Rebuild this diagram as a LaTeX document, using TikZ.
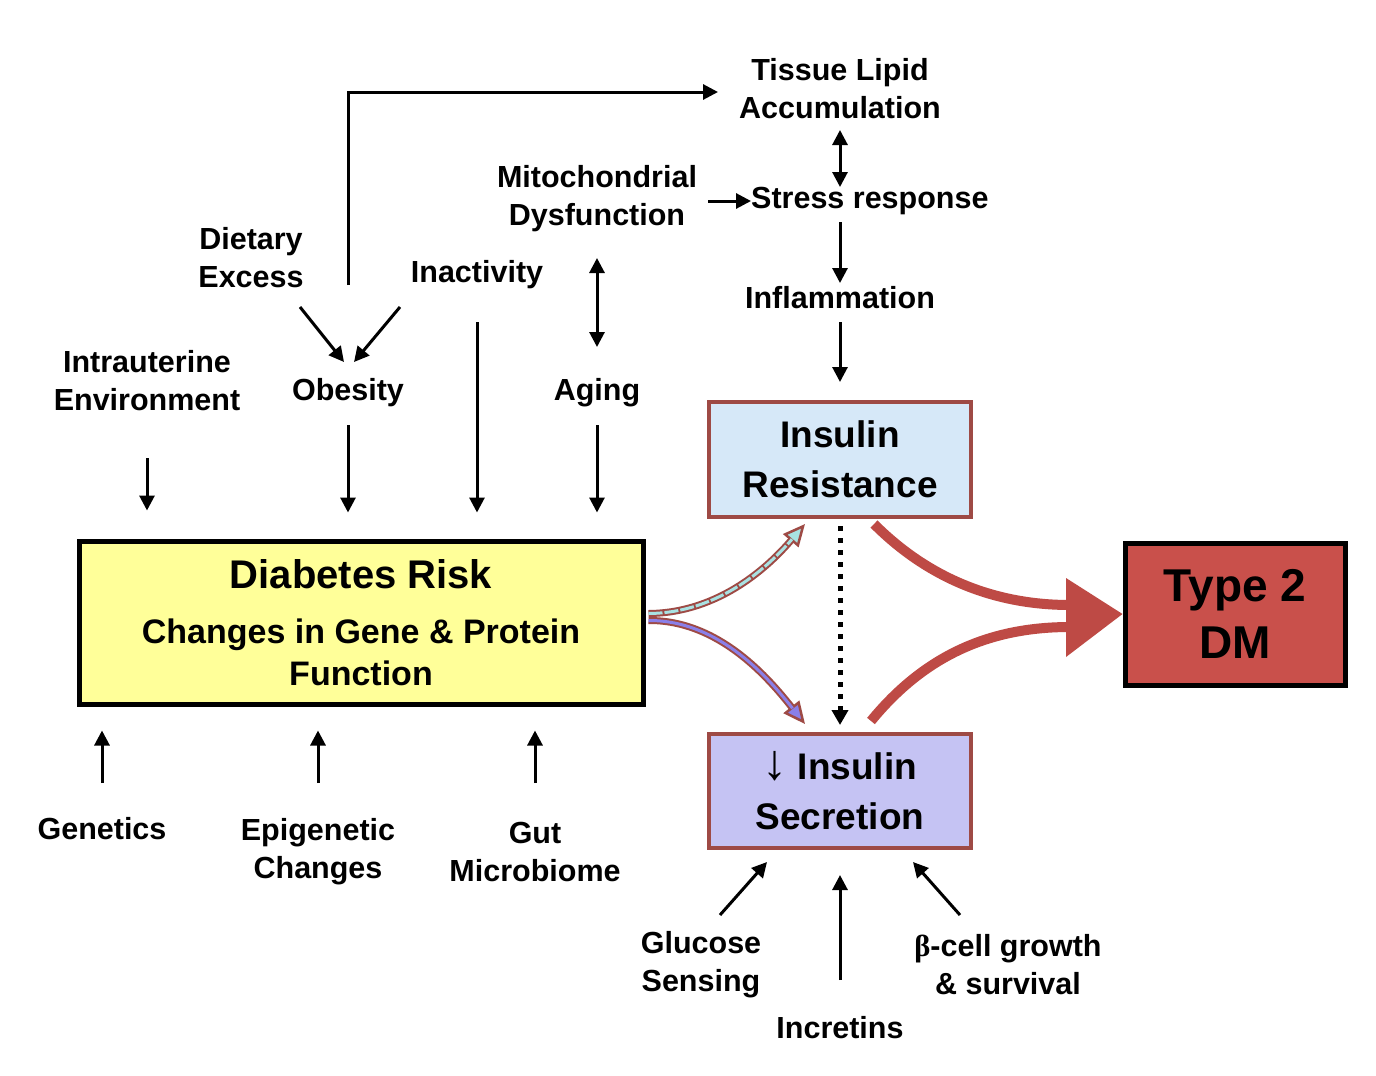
\documentclass[tikz,border=0pt]{standalone}
\usepackage{fontspec}
\setmainfont{Liberation Sans}
\newfontfamily\greekserif{Liberation Serif}
\usetikzlibrary{arrows.meta,calc}
\definecolor{brownline}{HTML}{9E4A45}
\definecolor{redarrow}{HTML}{BE4A45}
\definecolor{tdmfill}{HTML}{C9504B}
\definecolor{irfill}{HTML}{D6E8F8}
\definecolor{isfill}{HTML}{C5C3F3}
\definecolor{riskfill}{HTML}{FFFF99}
\definecolor{cyanline}{HTML}{A8E2E2}
\definecolor{purpline}{HTML}{8A7FE8}
\begin{document}
\begin{tikzpicture}[x=1pt,y=-1pt,
  lbl/.style={font=\fontsize{30.5}{38}\selectfont\bfseries, align=center, inner sep=0pt},
  arr/.style={line width=3pt, -{Triangle[length=15pt,width=15pt]}},
  dbl/.style={line width=3pt, {Triangle[length=15pt,width=15pt]}-{Triangle[length=15pt,width=15pt]}},
  inbox/.style={draw=brownline, line width=4pt, minimum width=262pt, inner sep=0pt, align=center, font=\fontsize{37}{50}\selectfont\bfseries}
]
\useasboundingbox (0,0) rectangle (1376,1076);
\fill[white] (0,0) rectangle (1376,1076);

% text labels
\node[lbl] (tissue) at (840,89) {Tissue Lipid\\Accumulation};
\node[lbl] (mito) at (597,199) {Mitochondrial\\Dysfunction};
\node[lbl, anchor=west] (stress) at (751,201) {Stress response};
\node[lbl] (inflam) at (840,298) {Inflammation};
\node[lbl] (dietary) at (251,258) {Dietary\\Excess};
\node[lbl] (inact) at (477,275) {Inactivity};
\node[lbl] (intra) at (147,381) {Intrauterine\\Environment};
\node[lbl] (obesity) at (348,393) {Obesity};
\node[lbl] (aging) at (597,393) {Aging};
\node[lbl] (genetics) at (102,829) {Genetics};
\node[lbl] (epi) at (318,852) {Epigenetic\\Changes};
\node[lbl] (gut) at (535,852) {Gut\\Microbiome};
\node[lbl] (glucose) at (701,965) {Glucose\\Sensing};
\node[lbl] (incretins) at (840,1028) {Incretins};
\node[lbl] (beta) at (1008,965) {{\greekserif β}-cell growth\\\& survival};

% boxes
\node[inbox, fill=irfill, minimum height=115pt] (ir) at (840,459.5) {Insulin\\Resistance};
\node[inbox, fill=isfill, minimum height=114pt] (is) at (840,791) {{\fontsize{50}{50}\selectfont\mdseries ↓}\hspace{10pt}Insulin\\Secretion};
\node[draw=black, line width=5pt, fill=riskfill, minimum width=564pt, minimum height=163pt, inner sep=0pt, align=center, font=\fontsize{34}{42}\selectfont\bfseries] (risk) at (361,622.5)
  {{\fontsize{40}{46}\selectfont Diabetes Risk}\\[13pt]Changes in Gene \& Protein\\Function};
\node[draw=black, line width=5pt, fill=tdmfill, minimum width=220pt, minimum height=142pt, inner sep=0pt, align=center, font=\fontsize{46}{57}\selectfont\bfseries] (t2) at (1235,614) {Type 2\\DM};

% top connectors
\draw[arr] ($(obesity.center)+(0,-108)$) |- ($(tissue.center)+(-122,3)$);
\draw[dbl] ($(tissue.center)+(0,41)$) -- ($(tissue.center |- stress.center)+(0,-14)$);
\draw[arr] ($(mito.center)+(111,2)$) -- (stress.west);
\draw[arr] ($(inflam.center)+(0,-76)$) -- ($(inflam.center)+(0,-15)$);
\draw[arr] ($(inflam.center)+(0,24)$) -- ($(ir.north)+(0,-18)$);
\draw[dbl] ($(mito.center)+(0,59)$) -- ($(aging.center)+(0,-46)$);
\draw[arr] ($(dietary.center)+(49,49)$) -- ($(obesity.center)+(-4,-31)$);
\draw[arr] ($(inact.center)+(-77,32)$) -- ($(obesity.center)+(6,-31)$);

% into risk box
\draw[arr] ($(intra.center)+(0,77)$) -- ($(intra.center |- risk.north)+(0,-28)$);
\draw[arr] ($(obesity.center)+(0,32)$) -- ($(obesity.center |- risk.north)+(0,-26)$);
\draw[arr] ($(inact.center)+(0,47)$) -- ($(inact.center |- risk.north)+(0,-26)$);
\draw[arr] ($(aging.center)+(0,32)$) -- ($(aging.center |- risk.north)+(0,-26)$);
\draw[arr] ($(genetics.center)+(0,-46)$) -- ($(genetics.center |- risk.south)+(0,24)$);
\draw[arr] ($(epi.center)+(0,-69)$) -- ($(epi.center |- risk.south)+(0,24)$);
\draw[arr] ($(gut.center)+(0,-69)$) -- ($(gut.center |- risk.south)+(0,24)$);

% into insulin secretion
\draw[arr] ($(glucose.center)+(19,-50)$) -- ($(is.south)+(-73,12)$);
\draw[arr] ($(incretins.center)+(0,-48)$) -- ($(is.south)+(0,25)$);
\draw[arr] ($(beta.center)+(-48,-50)$) -- ($(is.south)+(73,12)$);

% dotted
\draw[line width=5pt, dash pattern=on 5pt off 7pt, -{Triangle[length=15pt,width=16pt]}] ($(ir.south)+(0,7)$) -- ($(is.north)+(0,-7)$);

% curved risk arrows
\draw[brownline, line width=7pt, -{Triangle[length=22pt,width=20pt,fill=cyanline,line width=2.5pt]}]
  ($(risk.east)+(3,-9)$) .. controls (720,613) and (770,565) .. ($(ir.south)+(-35,5)$);
\draw[cyanline, line width=3pt, dash pattern=on 14pt off 2pt, shorten >=20pt]
  ($(risk.east)+(3,-9)$) .. controls (720,613) and (770,565) .. ($(ir.south)+(-35,5)$);
\draw[brownline, line width=7pt, -{Triangle[length=22pt,width=20pt,fill=purpline,line width=2.5pt]}]
  ($(risk.east)+(3,-2)$) .. controls (720,620) and (770,680) .. ($(is.north)+(-35,-8)$);
\draw[purpline, line width=3pt, shorten >=20pt]
  ($(risk.east)+(3,-2)$) .. controls (720,620) and (770,680) .. ($(is.north)+(-35,-8)$);

% big red arrow into Type 2 DM
\draw[redarrow, line width=10pt] ($(ir.south)+(34,5)$) .. controls (925,575) and (990,605) .. (1070,605);
\draw[redarrow, line width=10pt] ($(is.north)+(31,-11)$) .. controls (925,655) and (990,627) .. (1070,627);
\fill[redarrow] (1066,578) -- (t2.west) -- (1066,657) -- cycle;
\end{tikzpicture}
\end{document}
